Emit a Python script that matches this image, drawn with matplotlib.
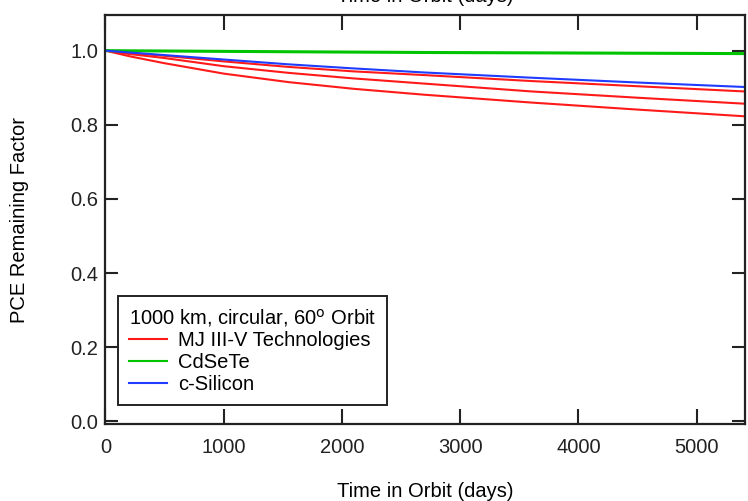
import matplotlib.pyplot as plt
import numpy as np

plt.rcParams['font.family'] = ['Liberation Sans', 'DejaVu Sans']

# values
days = [0, 200, 500, 1000, 1550, 2100, 2700, 3600, 4500, 5400]
mj_top = [1.0, 0.994, 0.986, 0.971, 0.956, 0.944, 0.934, 0.918, 0.904, 0.890]
mj_mid = [1.0, 0.991, 0.980, 0.958, 0.940, 0.925, 0.911, 0.890, 0.873, 0.857]
mj_bot = [1.0, 0.985, 0.966, 0.938, 0.915, 0.897, 0.881, 0.860, 0.841, 0.823]
cdsete = [1.0, 0.9995, 0.999, 0.998, 0.997, 0.996, 0.995, 0.994, 0.993, 0.992]
csi = [1.0, 0.995, 0.988, 0.976, 0.963, 0.952, 0.941, 0.927, 0.914, 0.902]

xticks = [0, 1000, 2000, 3000, 4000, 5000]
yticks = [0.0, 0.2, 0.4, 0.6, 0.8, 1.0]

red = '#ff1a1a'
green = '#00c400'
blue = '#1f3cff'
fs = 14.5

fig = plt.figure(figsize=(7.48, 5.01), dpi=100)
ax = fig.add_axes([0.141, 0.1537, 0.855, 0.8163])

ax.plot(days, mj_top, color=red, lw=1.5, label='MJ III-V Technologies')
ax.plot(days, mj_mid, color=red, lw=1.5)
ax.plot(days, mj_bot, color=red, lw=1.5)
ax.plot(days, cdsete, color=green, lw=2.2, label='CdSeTe')
ax.plot(days, csi, color=blue, lw=1.5, label='c-Silicon')

ax.set_xlim(0, 5410)
ax.set_ylim(-0.007, 1.096)
ax.set_xticks(xticks)
ax.set_yticks(yticks)
ax.yaxis.set_major_formatter(plt.FuncFormatter(lambda v, p: '%.1f' % v))

ax.tick_params(axis='both', direction='in', width=1.5, labelsize=fs,
               top=True, right=True, colors='#222222')
ax.tick_params(axis='x', length=11, pad=10)
ax.tick_params(axis='y', length=9.5, pad=5)
for s in ax.spines.values():
    s.set_linewidth(1.6)
    s.set_color('#222222')

ax.set_xlabel('Time in Orbit (days)', fontsize=fs, labelpad=18)
ax.set_ylabel('PCE Remaining Factor', fontsize=fs, labelpad=30)
# top axis label, cut off by the figure edge as in the original
fig.text(0.568, 0.996, 'Time in Orbit (days)', fontsize=fs, ha='center', va='baseline')

leg = ax.legend(loc='lower left', bbox_to_anchor=(0.0195, 0.046), borderaxespad=0,
                title='1000 km, circular, 60$^{\\mathrm{o}}$ Orbit', title_fontsize=fs,
                fontsize=fs, fancybox=False, framealpha=1, edgecolor='#222222',
                handlelength=1.9, handletextpad=0.55, labelspacing=0.14,
                borderpad=0.55, alignment='left')
leg.get_frame().set_linewidth(1.4)
for h in leg.get_lines():
    h.set_linewidth(1.5)

fig.savefig('out.png', dpi=100)
